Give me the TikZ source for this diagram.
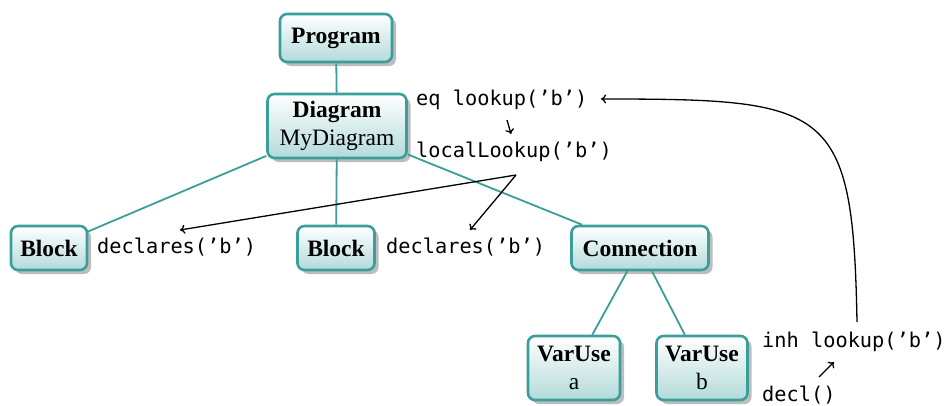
\documentclass[tikz,border=0pt]{standalone}
\usepackage{fontspec}
\setmainfont{Liberation Serif}
\newfontfamily\codefont{DejaVu Sans Mono}
\usetikzlibrary{shadows,arrows.meta}
\definecolor{tealb}{HTML}{3A9E9A}
\definecolor{tealf}{HTML}{B3DADA}
\definecolor{shad}{HTML}{BDBDBD}
\tikzset{
  astnode/.style={draw=tealb, line width=2.6pt, rounded corners=7pt,
    top color=white, bottom color=tealf, align=center, inner sep=0pt,
    font=\fontsize{23.5}{28}\selectfont,
    drop shadow={shadow xshift=4pt, shadow yshift=-4pt, fill=shad, opacity=1}},
  tedge/.style={draw=tealb, line width=1.8pt},
  code/.style={inner sep=0pt, anchor=west, font=\codefont\fontsize{20.3}{24}\selectfont},
  flow/.style={draw=black, line width=1.3pt, -{To[length=5pt,width=9pt]}}
}
\begin{document}
\begin{tikzpicture}[x=1pt,y=-1pt]
\useasboundingbox (0,0) rectangle (950,405);
% tree nodes
\node[astnode, minimum width=112pt, minimum height=48pt] (prog) at (336,38) {\textbf{Program}};
\node[astnode, minimum width=139pt, minimum height=64pt] (diag) at (337,126) {\textbf{Diagram}\\MyDiagram};
\node[astnode, minimum width=76pt, minimum height=44pt] (blk1) at (49,248) {\textbf{Block}};
\node[astnode, minimum width=77pt, minimum height=44pt] (blk2) at (336,248) {\textbf{Block}};
\node[astnode, minimum width=137pt, minimum height=44pt] (conn) at (640,248) {\textbf{Connection}};
\node[astnode, minimum width=92pt, minimum height=64pt] (vua) at (574,368) {\textbf{VarUse}\\a};
\node[astnode, minimum width=91pt, minimum height=64pt] (vub) at (702,368) {\textbf{VarUse}\\b};
% tree edges
\draw[tedge] (prog) -- (diag);
\draw[tedge] (diag) -- (blk1);
\draw[tedge] (diag) -- (blk2);
\draw[tedge] (diag) -- (conn);
\draw[tedge] (conn) -- (vua);
\draw[tedge] (conn) -- (vub);
% code labels
\node[code] (eq) at (416,100) {eq lookup(’b’)};
\node[code] (loc) at (416,152) {localLookup(’b’)};
\node[code] (dec1) at (97,247) {declares(’b’)};
\node[code] (dec2) at (386,247) {declares(’b’)};
\node[code] (inh) at (762,342) {inh lookup(’b’)};
\node[code] (decl) at (762,395) {decl()};
% helper coordinates
\coordinate (ls) at (516,175);
\coordinate (d1) at (180,230);
\coordinate (d2) at (470,230);
\coordinate (a1) at (507,120);
\coordinate (a2) at (511,134);
\coordinate (b1) at (819,377);
\coordinate (b2) at (834,362);
\coordinate (it) at (857,322);
\coordinate (et) at (601,99);
% flow arrows
\draw[flow] (a1) -- (a2);
\draw[flow] (ls) -- (d1);
\draw[flow] (ls) -- (d2);
\draw[flow] (b1) -- (b2);
\draw[flow] (it) .. controls (853,105) and (830,99) .. (et);
\end{tikzpicture}
\end{document}
